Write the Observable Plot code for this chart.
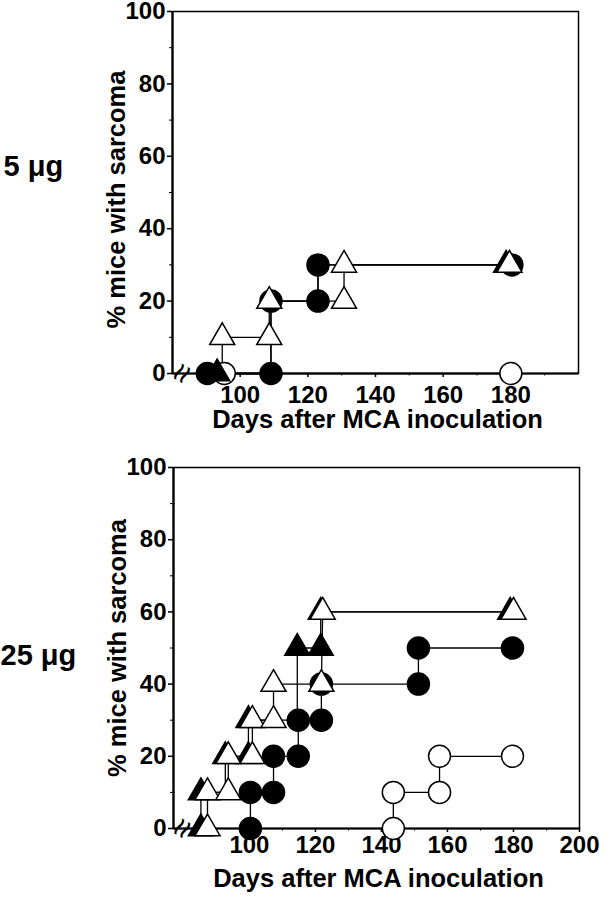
<!DOCTYPE html>
<html><head><meta charset="utf-8">
<script src="https://cdn.jsdelivr.net/npm/d3@7"></script>
<script src="https://cdn.jsdelivr.net/npm/@observablehq/plot@0.6"></script>
<style>body{margin:0;background:#fff;width:609px} #c svg{display:block}</style>
</head><body><div id="c"></div>
<script>
const xTicks5 = [100,120,140,160,180];
const xTicks25 = [100,120,140,160,180,200];
const xMinor = [90,110,130,150,170,190];
const yTicks = [0,20,40,60,80,100];
const yMinor = [10,30,50,70,90];
const yLabel = "% mice with sarcoma";
const xLabel = "Days after MCA inoculation";
const panelLabels = ["5 μg", "25 μg"];

// [day, % mice, marker shown (1) or step corner only (0)]
const p5_openCircle   = [[95.3,0],[180,0]];
const p5_filledCircle = [[90.3,0],[109.1,0],[109.1,20],[123,20],[123,30],[180.3,30]];
const p5_filledTri    = [[93.2,0],[109.1,0,0],[109.1,20,0],[123,20,0],[123,30,0],[178.6,30]];
const p5_openTri      = [[94.7,0,0],[94.7,10],[108.6,10],[108.6,20],[130.7,20],[130.7,30],[179.6,30]];

const p25_openCircle   = [[143.6,0],[143.6,10],[157.6,10],[157.6,20],[179.7,20]];
const p25_filledCircle = [[100.3,0],[100.3,10],[107.3,10],[107.3,20],[114.8,20],[114.8,30],[121.8,30],[121.8,40],[151.2,40],[151.2,50],[179.7,50]];
const p25_filledTri    = [[85.3,0],[85.3,10],[92.7,10,0],[92.7,20],[99.7,20],[99.7,30],[114.5,30,0],[114.5,50],[121.6,50],[121.6,60],[179,60]];
const p25_openTri      = [[87.3,0],[87.3,10],[93.6,10],[93.6,20],[100.9,20],[100.9,30],[107.3,30],[107.3,40],[121.8,40],[122.2,60],[180,60]];

const font = "'Liberation Sans', Arial, Helvetica, sans-serif";
const rows = a => a.map(([x, y, m = 1]) => ({x, y, m}));

function panel(o) {
  const series = [
    {data: o.openCircle, symbol: "circle", fill: "white"},
    {data: o.filledCircle, symbol: "circle", fill: "black"},
    {data: o.filledTri, symbol: "triangle", fill: "black"},
    {data: o.openTri, symbol: "triangle", fill: "white"}
  ];
  const marks = [
    Plot.axisY({ticks: yTicks, tickSize: 5, tickPadding: 2, label: null, strokeWidth: 1.5, fontSize: 24}),
    Plot.axisY({ticks: yMinor, tickSize: 3, tickFormat: () => "", label: null}),
    Plot.axisX({ticks: o.ticks, tickSize: 4, tickPadding: o.tickPad, label: null, strokeWidth: 1.5, fontSize: 24}),
    Plot.axisX({ticks: xMinor, tickSize: 2.5, tickFormat: () => "", label: null}),
    Plot.frame({stroke: "black", strokeWidth: 1.5}),
    Plot.ruleX([o.domain[0]], {stroke: "black", strokeWidth: 2.2}),
    Plot.ruleY([0], {stroke: "black", strokeWidth: 2.2}),
    Plot.text([{x: o.breakX, y: 0}], {x: "x", y: "y", text: () => "≈", rotate: -60, fontSize: 34, fontWeight: "normal"})
  ];
  for (const s of series) marks.push(Plot.line(rows(s.data), {x: "x", y: "y", stroke: "black", strokeWidth: 1.3}));
  for (const s of series) marks.push(Plot.dot(rows(s.data).filter(d => d.m), {
    x: "x", y: "y", symbol: s.symbol, r: s.symbol === "circle" ? 11 : 9.3,
    fill: s.fill, stroke: "black", strokeWidth: 1.5
  }));
  marks.push(
    Plot.text([yLabel], {frameAnchor: "left", textAnchor: "middle", dx: -56, dy: o.ylabDy, rotate: -90, fontSize: 25.5}),
    Plot.text([xLabel], {frameAnchor: "bottom", textAnchor: "middle", lineAnchor: "bottom", dx: 2, dy: o.xlabDy, fontSize: 25.5}),
    Plot.text([o.name], {frameAnchor: "left", textAnchor: "start", dx: o.nameDx, dy: o.nameDy, fontSize: 29})
  );
  return Plot.plot({
    width: 609, height: o.height,
    marginTop: o.mt, marginBottom: o.mb, marginLeft: o.ml, marginRight: o.mr,
    x: {domain: o.domain, label: null},
    y: {domain: [0, 100], label: null},
    style: {fontFamily: font, fontWeight: "bold", fontSize: "24px", color: "black", background: "white", overflow: "visible"},
    marks
  });
}

const c = document.getElementById("c");
c.append(panel({
  name: panelLabels[0], height: 440, mt: 11, mb: 67, ml: 172, mr: 31,
  domain: [80, 200], ticks: xTicks5, tickPad: 8, breakX: 82.9,
  openCircle: p5_openCircle, filledCircle: p5_filledCircle, filledTri: p5_filledTri, openTri: p5_openTri,
  ylabDy: 7, xlabDy: 54, nameDx: -169, nameDy: -26
}));
c.append(panel({
  name: panelLabels[1], height: 459, mt: 27, mb: 71, ml: 173, mr: 30,
  domain: [77, 200], ticks: xTicks25, tickPad: 3, breakX: 79.7,
  openCircle: p25_openCircle, filledCircle: p25_filledCircle, filledTri: p25_filledTri, openTri: p25_openTri,
  ylabDy: 0, xlabDy: 58, nameDx: -173, nameDy: 8
}));
</script></body></html>
